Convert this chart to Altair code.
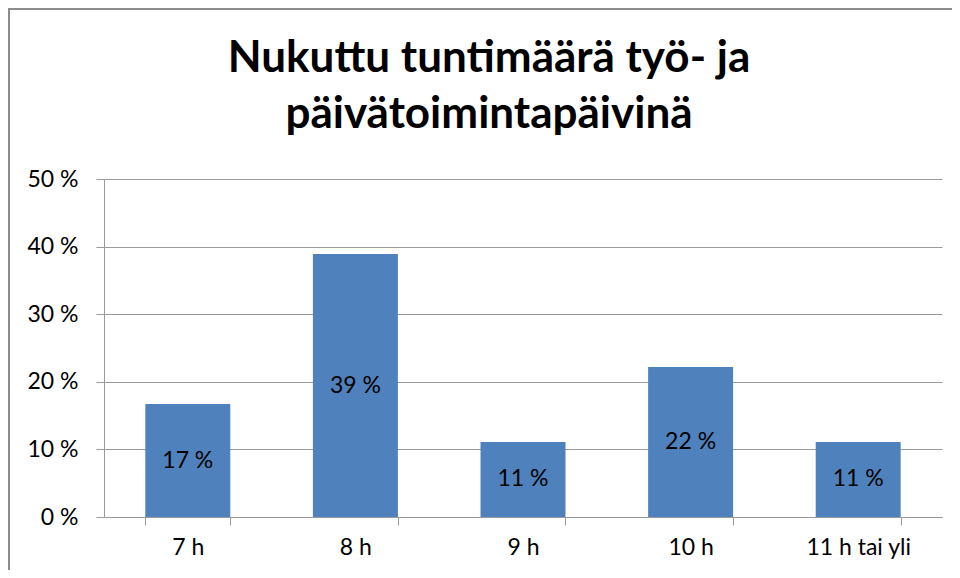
import altair as alt
import pandas as pd

title_lines = ["Nukuttu tuntimäärä työ- ja", "päivätoimintapäivinä"]
categories = ["7 h", "8 h", "9 h", "10 h", "11 h tai yli"]
values = [16.7, 38.9, 11.1, 22.2, 11.1]
labels = ["17 %", "39 %", "11 %", "22 %", "11 %"]

df = pd.DataFrame({"cat": categories, "val": values, "lab": labels})

FONT = "Lato"
GRID = "#9a9a9a"
FS = 23

x = alt.X("cat:N", sort=categories, title=None,
          scale=alt.Scale(paddingInner=0.493, paddingOuter=0.2465),
          axis=alt.Axis(labelAngle=0, tickBand="extent", tickSize=8, tickColor=GRID,
                        domainColor=GRID, labelFont=FONT, labelFontSize=FS,
                        labelColor="#000000", labelPadding=11, grid=False))
y = alt.Y("val:Q", title=None,
          scale=alt.Scale(domain=[0, 50], nice=False),
          axis=alt.Axis(values=[0, 10, 20, 30, 40, 50], labelExpr="datum.value + ' %'",
                        tickSize=8, tickColor=GRID, domainColor=GRID, gridColor=GRID,
                        labelFont=FONT, labelFontSize=FS, labelColor="#000000",
                        labelPadding=18))

base = alt.Chart(df)
bars = base.mark_bar(color="#4F81BD").encode(x=x, y=y)
text = base.mark_text(font=FONT, fontSize=FS, color="#000000", baseline="middle").encode(
    x=alt.X("cat:N", sort=categories), y=alt.Y("mid:Q"), text="lab:N"
).transform_calculate(mid="datum.val / 2")

one = pd.DataFrame({"a": [0]})
frame = alt.Chart(one).mark_rect(
    fill=None, stroke="#8c8c8c", strokeWidth=2, clip=False
).encode(x=alt.value(-95), x2=alt.value(900), y=alt.value(-170), y2=alt.value(420))

title = alt.Chart(one).mark_text(
    text=title_lines, font=FONT, fontSize=44, fontWeight="bold", color="#000000",
    align="center", baseline="alphabetic", lineHeight=56,
).encode(x=alt.value(385), y=alt.value(-107))

chart = alt.layer(frame, bars, text, title).properties(
    width=838, height=338,
    autosize=alt.AutoSizeParams(type="none"),
    padding={"left": 96, "top": 171, "right": 10, "bottom": 53},
).configure_view(stroke=None)

chart.save("out.html", embed_options={"renderer": "svg", "actions": False})
